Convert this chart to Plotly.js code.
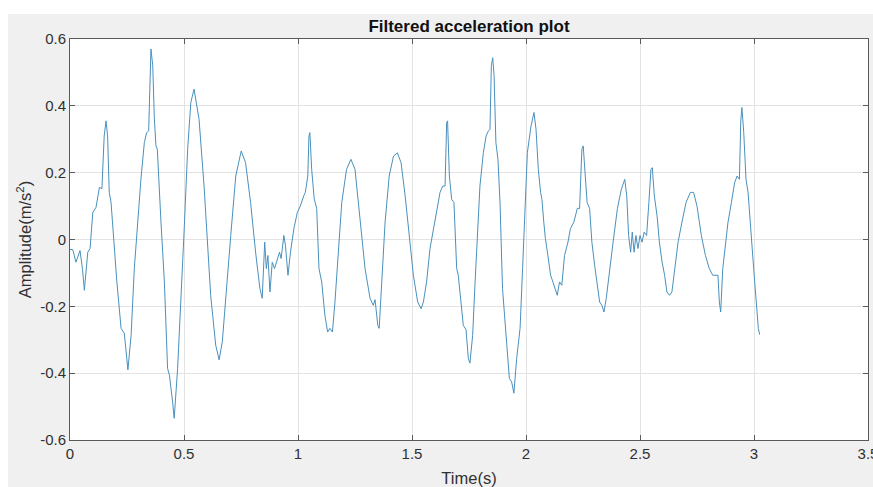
<!DOCTYPE html>
<html>
<head>
<meta charset="utf-8">
<script src="https://cdn.plot.ly/plotly-3.0.1.min.js"></script>
<style>
  html, body { margin: 0; padding: 0; background: #ffffff; width: 873px; height: 487px; overflow: hidden; }
  #wrap { position: absolute; left: 0; top: 0; width: 873px; height: 487px; overflow: hidden; }
  #plot { position: absolute; left: 8px; top: 14px; width: 895px; height: 473px; }
</style>
</head>
<body>
<div id="wrap"><div id="plot"></div></div>
<script>
// Time (s)
const timeS = [
0.000,0.012,0.026,0.044,0.055,0.063,0.078,0.088,0.100,0.114,0.129,0.140,0.150,0.158,0.165,0.172,0.180,0.194,0.205,0.224,
0.238,0.254,0.268,0.282,0.297,0.311,0.326,0.336,0.345,0.351,0.355,0.363,0.370,0.377,0.383,0.399,0.414,0.428,0.436,0.450,
0.457,0.472,0.487,0.501,0.516,0.530,0.544,0.566,0.588,0.602,0.617,0.639,0.654,0.668,0.683,0.705,0.727,0.751,0.770,0.792,
0.814,0.833,0.843,0.854,0.861,0.868,0.877,0.887,0.897,0.909,0.919,0.926,0.938,0.945,0.956,0.967,0.982,0.997,1.010,1.025,
1.032,1.043,1.048,1.052,1.060,1.071,1.082,1.092,1.104,1.118,1.130,1.140,1.151,1.162,1.177,1.192,1.213,1.232,1.250,1.272,
1.294,1.316,1.330,1.338,1.350,1.356,1.368,1.382,1.400,1.419,1.436,1.452,1.470,1.487,1.506,1.525,1.540,1.550,1.564,1.579,
1.594,1.608,1.623,1.635,1.645,1.652,1.656,1.664,1.674,1.684,1.696,1.703,1.713,1.725,1.737,1.747,1.754,1.766,1.776,1.787,
1.798,1.813,1.825,1.835,1.842,1.848,1.854,1.860,1.868,1.877,1.886,1.897,1.908,1.918,1.927,1.937,1.947,1.959,1.974,1.985,
1.996,2.006,2.022,2.035,2.044,2.054,2.064,2.070,2.078,2.085,2.096,2.108,2.118,2.129,2.137,2.147,2.157,2.169,2.184,2.195,
2.210,2.225,2.235,2.245,2.251,2.260,2.268,2.279,2.289,2.301,2.313,2.323,2.333,2.342,2.352,2.367,2.382,2.401,2.418,2.433,
2.442,2.450,2.459,2.466,2.474,2.482,2.491,2.500,2.509,2.518,2.529,2.539,2.548,2.554,2.563,2.575,2.585,2.597,2.608,2.618,
2.629,2.640,2.652,2.667,2.684,2.702,2.721,2.735,2.750,2.769,2.787,2.804,2.819,2.833,2.842,2.848,2.854,2.863,2.874,2.886,
2.901,2.915,2.926,2.936,2.942,2.947,2.955,2.965,2.974,2.985,2.992,3.000,3.010,3.019,3.025
];
// Filtered acceleration (m/s^2)
const accel = [
-0.030,-0.030,-0.068,-0.033,-0.090,-0.152,-0.038,-0.027,0.081,0.096,0.156,0.152,0.310,0.355,0.310,0.141,0.111,-0.038,-0.122,-0.266,
-0.280,-0.390,-0.287,-0.087,0.052,0.180,0.290,0.320,0.325,0.510,0.570,0.520,0.360,0.280,0.270,0.052,-0.127,-0.386,-0.406,-0.486,
-0.535,-0.386,-0.187,0.033,0.270,0.410,0.450,0.360,0.160,-0.008,-0.167,-0.316,-0.360,-0.306,-0.187,0.012,0.190,0.265,0.230,0.111,
-0.038,-0.147,-0.176,-0.008,-0.087,-0.048,-0.157,-0.068,-0.087,-0.057,-0.038,-0.057,0.012,-0.018,-0.107,-0.038,0.033,0.081,0.100,0.130,
0.141,0.190,0.310,0.320,0.210,0.122,0.093,-0.087,-0.127,-0.227,-0.277,-0.266,-0.277,-0.187,-0.038,0.111,0.210,0.240,0.210,0.052,
-0.087,-0.176,-0.197,-0.180,-0.257,-0.266,-0.107,0.052,0.190,0.250,0.259,0.230,0.130,0.012,-0.107,-0.187,-0.207,-0.187,-0.127,-0.027,
0.033,0.093,0.141,0.160,0.160,0.350,0.355,0.190,0.120,0.111,-0.087,-0.107,-0.187,-0.257,-0.270,-0.356,-0.370,-0.287,-0.137,0.012,
0.160,0.260,0.310,0.325,0.330,0.520,0.544,0.490,0.290,0.240,0.111,-0.147,-0.237,-0.346,-0.416,-0.426,-0.460,-0.356,-0.266,-0.087,
0.093,0.260,0.340,0.380,0.330,0.210,0.141,0.120,0.052,0.003,-0.048,-0.107,-0.127,-0.147,-0.167,-0.127,-0.137,-0.048,-0.008,0.033,
0.052,0.093,0.093,0.270,0.280,0.190,0.111,0.093,-0.008,-0.077,-0.147,-0.187,-0.197,-0.217,-0.176,-0.087,-0.008,0.093,0.150,0.180,
0.130,0.012,-0.038,0.022,-0.038,0.012,-0.027,0.012,-0.008,0.022,0.012,0.111,0.210,0.215,0.130,0.070,-0.008,-0.068,-0.107,-0.157,
-0.167,-0.157,-0.087,-0.008,0.052,0.111,0.141,0.141,0.100,0.012,-0.048,-0.087,-0.107,-0.107,-0.107,-0.187,-0.217,-0.087,-0.027,0.052,
0.111,0.170,0.190,0.180,0.355,0.395,0.320,0.180,0.141,0.033,-0.048,-0.100,-0.187,-0.266,-0.285
];
const xTickVals = [0, 0.5, 1, 1.5, 2, 2.5, 3, 3.5];
const xTickText = ["0", "0.5", "1", "1.5", "2", "2.5", "3", "3.5"];
const yTickVals = [-0.6, -0.4, -0.2, 0, 0.2, 0.4, 0.6];
const yTickText = ["-0.6", "-0.4", "-0.2", "0", "0.2", "0.4", "0.6"];

const fontFam = '"Liberation Sans", Arial, Helvetica, sans-serif';
const axisCommon = {
  showgrid: true, gridcolor: '#e3e3e3', gridwidth: 1,
  zeroline: false, showline: true, linecolor: '#5a5a5a', linewidth: 1,
  mirror: 'ticks', ticks: 'inside', ticklen: 5, tickcolor: '#5a5a5a', tickwidth: 1,
  tickfont: { family: fontFam, size: 15, color: '#303030' },
  tickmode: 'array', automargin: false
};

const trace = {
  x: timeS, y: accel, type: 'scatter', mode: 'lines',
  line: { color: '#4a90bd', width: 1 }, hoverinfo: 'skip'
};

// div: 895 x 473 placed at (8,14); plot area spans page x 70..868, y 39..440
const layout = {
  width: 895, height: 473,
  margin: { l: 62, r: 35, t: 25, b: 47, pad: 0 },
  paper_bgcolor: '#f0f0f0', plot_bgcolor: '#ffffff',
  showlegend: false,
  title: {
    text: '<b>Filtered acceleration plot</b>',
    font: { family: fontFam, size: 17, color: '#111111' },
    x: 461 / 895, xanchor: 'center', xref: 'container',
    y: 1 - 12 / 473, yanchor: 'middle', yref: 'container'
  },
  xaxis: Object.assign({}, axisCommon, {
    range: [0, 3.5], tickvals: xTickVals, ticktext: xTickText,
    title: { text: 'Time(s)', font: { family: fontFam, size: 16.5, color: '#303030' }, standoff: 11 }
  }),
  yaxis: Object.assign({}, axisCommon, {
    range: [-0.6, 0.6], tickvals: yTickVals, ticktext: yTickText,
    title: { text: 'Amplitude(m/s<sup>2</sup>)', font: { family: fontFam, size: 16.5, color: '#303030' }, standoff: 4 }
  })
};

Plotly.newPlot('plot', [trace], layout, { staticPlot: true, displayModeBar: false });
</script>
</body>
</html>
